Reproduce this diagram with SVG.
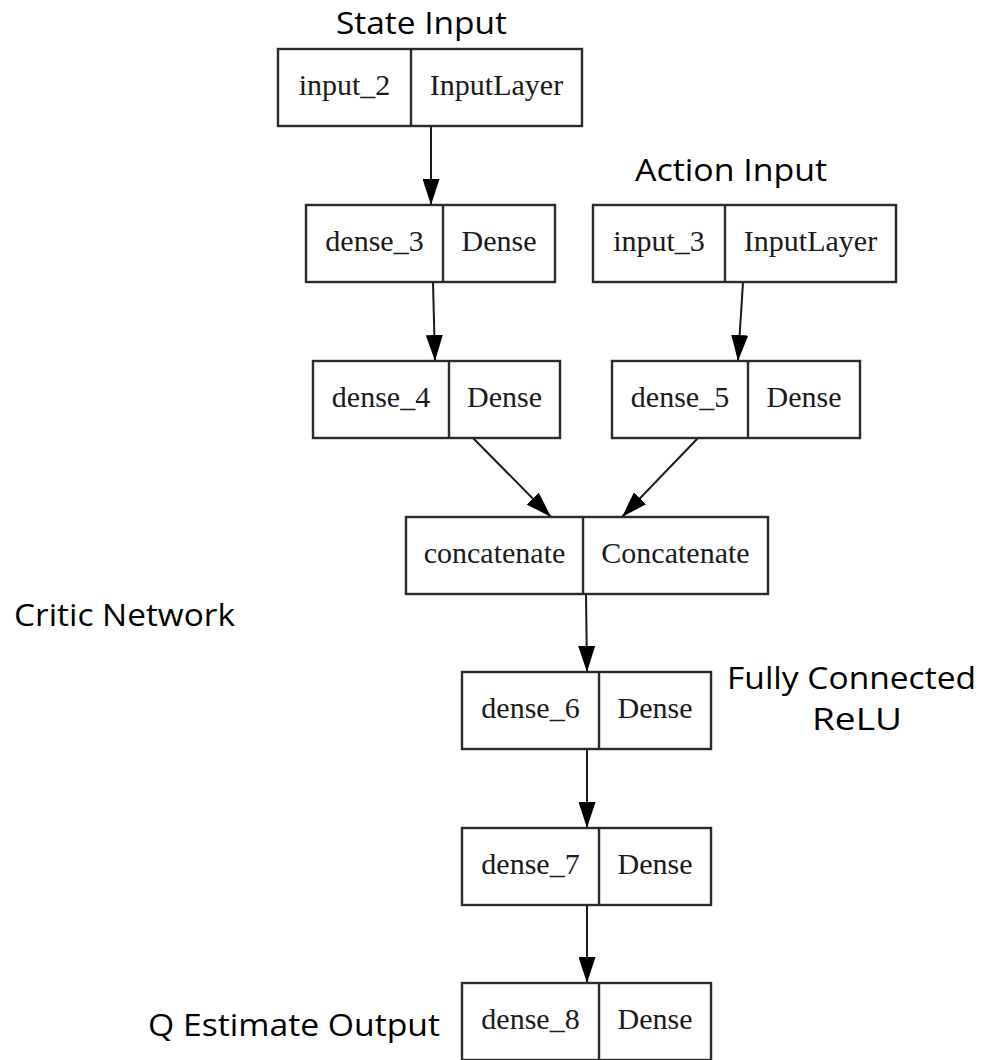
<svg xmlns="http://www.w3.org/2000/svg" width="997" height="1060" viewBox="0 0 997 1060">
  <defs>
    <style>
      .box { fill: #ffffff; stroke: #2b2b2b; stroke-width: 2.4; }
      .div { stroke: #2b2b2b; stroke-width: 2.4; }
      .lbl { font-family: "Liberation Serif", "Times New Roman", serif; font-size: 30px; fill: #1a1a1a; text-anchor: middle; }
      .note { font-family: "Open Sans", "Noto Sans", sans-serif; font-size: 31px; fill: #000000; }
      .edge { fill: none; stroke: #1a1a1a; stroke-width: 2; marker-end: url(#head); }
    </style>
    <marker id="head" viewBox="0 0 26 17" refX="26" refY="8.5" markerWidth="26" markerHeight="17" markerUnits="userSpaceOnUse" orient="auto">
      <path d="M0,0 L26,8.5 L0,17 z" fill="#000000"/>
    </marker>
  </defs>
  <rect width="997" height="1060" fill="#ffffff"/>

  <!-- side annotations -->
  <g id="annotations">
    <text class="note" x="336" y="34" textLength="171" lengthAdjust="spacingAndGlyphs">State Input</text>
    <text class="note" x="635" y="181" textLength="192" lengthAdjust="spacingAndGlyphs">Action Input</text>
    <text class="note" x="14" y="626" textLength="221" lengthAdjust="spacingAndGlyphs">Critic Network</text>
    <text class="note" x="727" y="689" textLength="249" lengthAdjust="spacingAndGlyphs">Fully Connected</text>
    <text class="note" x="812" y="730" textLength="90" lengthAdjust="spacingAndGlyphs">ReLU</text>
    <text class="note" x="148" y="1036" textLength="292" lengthAdjust="spacingAndGlyphs">Q Estimate Output</text>
  </g>

  <!-- connectors -->
  <g id="connectors">
    <line class="edge" x1="431" y1="126" x2="431" y2="205"/>
    <line class="edge" x1="433" y1="282" x2="435" y2="361"/>
    <line class="edge" x1="743" y1="282" x2="738" y2="361"/>
    <line class="edge" x1="473" y1="438" x2="551" y2="517"/>
    <line class="edge" x1="698" y1="438" x2="622" y2="517"/>
    <line class="edge" x1="586" y1="594" x2="587" y2="672"/>
    <line class="edge" x1="587" y1="749" x2="587" y2="828"/>
    <line class="edge" x1="587" y1="905" x2="587" y2="983"/>
  </g>

  <!-- layer nodes -->
  <g id="input_2">
    <rect class="box" x="278" y="49" width="304" height="77"/>
    <line class="div" x1="411" y1="49" x2="411" y2="126"/>
    <text class="lbl" x="344.5" y="95">input_2</text>
    <text class="lbl" x="496.5" y="95">InputLayer</text>
  </g>
  <g id="dense_3">
    <rect class="box" x="306" y="205" width="249" height="77"/>
    <line class="div" x1="443" y1="205" x2="443" y2="282"/>
    <text class="lbl" x="374.5" y="251">dense_3</text>
    <text class="lbl" x="499" y="251">Dense</text>
  </g>
  <g id="input_3">
    <rect class="box" x="593" y="205" width="303" height="77"/>
    <line class="div" x1="725" y1="205" x2="725" y2="282"/>
    <text class="lbl" x="659" y="251">input_3</text>
    <text class="lbl" x="810.5" y="251">InputLayer</text>
  </g>
  <g id="dense_4">
    <rect class="box" x="313" y="361" width="247" height="77"/>
    <line class="div" x1="449" y1="361" x2="449" y2="438"/>
    <text class="lbl" x="381" y="407">dense_4</text>
    <text class="lbl" x="504.5" y="407">Dense</text>
  </g>
  <g id="dense_5">
    <rect class="box" x="612" y="361" width="248" height="77"/>
    <line class="div" x1="748" y1="361" x2="748" y2="438"/>
    <text class="lbl" x="680" y="407">dense_5</text>
    <text class="lbl" x="804" y="407">Dense</text>
  </g>
  <g id="concatenate">
    <rect class="box" x="406" y="517" width="362" height="77"/>
    <line class="div" x1="583" y1="517" x2="583" y2="594"/>
    <text class="lbl" x="494.5" y="563">concatenate</text>
    <text class="lbl" x="675.5" y="563">Concatenate</text>
  </g>
  <g id="dense_6">
    <rect class="box" x="462" y="672" width="249" height="77"/>
    <line class="div" x1="599" y1="672" x2="599" y2="749"/>
    <text class="lbl" x="530.5" y="718">dense_6</text>
    <text class="lbl" x="655" y="718">Dense</text>
  </g>
  <g id="dense_7">
    <rect class="box" x="462" y="828" width="249" height="77"/>
    <line class="div" x1="599" y1="828" x2="599" y2="905"/>
    <text class="lbl" x="530.5" y="874">dense_7</text>
    <text class="lbl" x="655" y="874">Dense</text>
  </g>
  <g id="dense_8">
    <rect class="box" x="462" y="983" width="249" height="77"/>
    <line class="div" x1="599" y1="983" x2="599" y2="1060"/>
    <text class="lbl" x="530.5" y="1029">dense_8</text>
    <text class="lbl" x="655" y="1029">Dense</text>
  </g>
</svg>
